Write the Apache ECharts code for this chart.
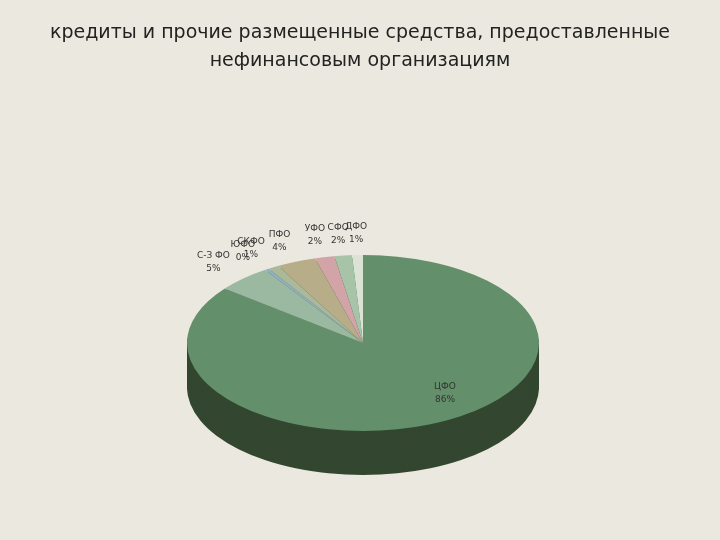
<!DOCTYPE html>
<html><head><meta charset="utf-8">
<script src="https://cdn.jsdelivr.net/npm/echarts@6/dist/echarts.min.js"></script>
<style>
html,body{margin:0;padding:0;background:#ebe9df;}
#wrap{position:relative;width:720px;height:540px;overflow:hidden;}
#pie{position:absolute;left:0;top:0;width:720px;height:1080px;transform:scaleY(0.5);transform-origin:0 0;}
#txt{position:absolute;left:0;top:0;width:720px;height:540px;}
</style></head>
<body><div id="wrap"><div id="pie"></div><div id="txt"></div></div>
<script>
const categories = ['ЦФО','С-З ФО','ЮФО','СКФО','ПФО','УФО','СФО','ДФО'];
const values = [85.6, 5, 0.4, 1, 3.6, 1.8, 1.6, 1];
const colors = ['#63906a','#9bb8a0','#8fb0c0','#a9b99a','#b7ad88','#d2a4a8','#a8c4a8','#dbe4d4'];
const titleText = 'кредиты и прочие размещенные средства, предоставленные\nнефинансовым организациям';

const cx = 363, cy = 343, rx = 176, ry = 88, depth = 44;
const data = categories.map((c,i)=>({name:c,value:values[i],itemStyle:{color:colors[i]}}));
const series = [];
const steps = 16;
for (let s = steps; s >= 1; s--) {
  series.push({type:'pie',silent:true,startAngle:90,clockwise:true,radius:rx,
    center:[cx, (cy + depth*s/steps)*2],label:{show:false},labelLine:{show:false},
    itemStyle:{color:'#33462f',borderWidth:0},data:data.map(d=>({name:d.name,value:d.value})),animation:false});
}
series.push({type:'pie',startAngle:90,clockwise:true,radius:rx,center:[cx,cy*2],
  label:{show:false},labelLine:{show:false},itemStyle:{borderWidth:0},data:data,animation:false});
const pie = echarts.init(document.getElementById('pie'));
pie.setOption({backgroundColor:'transparent',series:series});

// labels placed from slice angles
const total = values.reduce((a,b)=>a+b,0);
const graphics = [];
let acc = 0;
values.forEach((v,i)=>{
  const mid = 90 - (acc + v/2)/total*360; acc += v;
  const a = mid*Math.PI/180;
  const k = i===0 ? 0.85 : 1.25;
  let x = cx + Math.cos(a)*rx*k, y = cy - Math.sin(a)*ry*k;
  if (i===0) { x = 445; y = 393; }
  graphics.push({type:'text',x:x,y:y,style:{text:categories[i]+'\n'+Math.round(v/total*100)+'%',
    fill:'#333',font:'9px "DejaVu Sans"',align:'center',verticalAlign:'middle',lineHeight:13}});
});
const txt = echarts.init(document.getElementById('txt'));
txt.setOption({backgroundColor:'transparent',
  title:{text:titleText,left:'center',top:14,textStyle:{fontFamily:'"DejaVu Sans"',fontWeight:'normal',fontSize:19,color:'#222',lineHeight:28}},
  graphic:graphics});
</script></body></html>
